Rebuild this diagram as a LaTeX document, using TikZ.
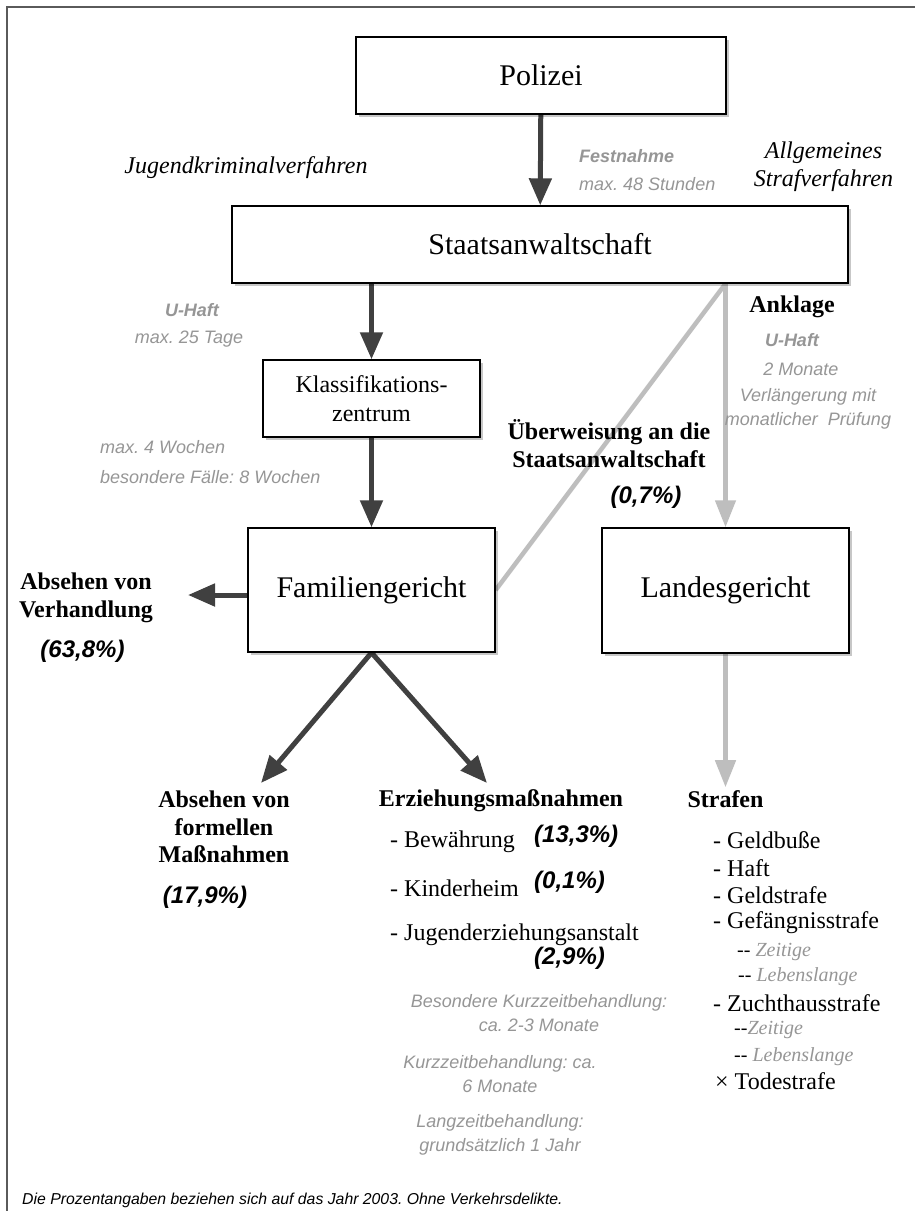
\documentclass[tikz,border=0pt]{standalone}
\usepackage{fontspec}
\setmainfont{Liberation Serif}
\setsansfont{Liberation Sans}
\usepackage{tikz}
\usetikzlibrary{arrows.meta, positioning, shadows, backgrounds}
\definecolor{DA}{RGB}{64,64,64}
\definecolor{LA}{RGB}{190,190,190}
\definecolor{GT}{RGB}{150,150,150}
\definecolor{FR}{RGB}{90,90,90}
\frenchspacing

\begin{document}
\begin{tikzpicture}[x=1pt, y=-1pt,
  box/.style={draw=black, line width=1.4pt, fill=white,
              drop shadow={shadow xshift=3pt, shadow yshift=-3pt, fill=black, opacity=.22},
              align=center, inner sep=0pt, font=\fontsize{30}{34}\selectfont},
  darr/.style={-{Triangle[length=27pt,width=22pt]}, line width=5pt, draw=DA},
  garr/.style={-{Triangle[length=27pt,width=20pt]}, line width=4.5pt, draw=LA},
  gline/.style={line width=4.5pt, draw=LA},
  proc/.style={font=\fontsize{24}{28}\selectfont\itshape, align=center, inner sep=0pt},
  note/.style={font=\sffamily\fontsize{18}{24}\selectfont\itshape, text=GT, align=center, inner sep=0pt},
  notebf/.style={font=\sffamily\fontsize{18}{24}\selectfont\bfseries\itshape, text=GT, inner sep=0pt},
  lbl/.style={font=\fontsize{24}{27.5}\selectfont\bfseries, align=center, inner sep=0pt},
  pct/.style={font=\sffamily\fontsize{24}{28}\selectfont\bfseries\itshape, inner sep=0pt},
  entry/.style={font=\fontsize{24}{28}\selectfont, anchor=west, inner sep=0pt},
  subentry/.style={font=\fontsize{20}{24}\selectfont, anchor=west, inner sep=0pt}
]
\useasboundingbox (0,0) rectangle (915,1211);

% Boxes
\node[box, minimum width=370pt, minimum height=77pt]  (polizei)  at (541,75.5)  {Polizei};
\node[box, minimum width=616pt, minimum height=77pt]  (staats)   at (540,244.5) {Staatsanwaltschaft};
\node[box, minimum width=217pt, minimum height=77pt,
      font=\fontsize{24}{29}\selectfont]              (klass)    at (371.5,398.5) {Klassifikations-\\zentrum};
\node[box, minimum width=247pt, minimum height=124pt] (familien) at (371.5,590) {Familiengericht};
\node[box, minimum width=247pt, minimum height=125pt] (landes)   at (725.5,590.5) {Landesgericht};

% Verfahren
\node[proc] (jkv) at (246,168) {Jugendkriminalverfahren};
\node[proc] (asv) at (823.5,167) {Allgemeines\\Strafverfahren};

% Festnahme
\node[notebf, anchor=west] (festn) at (579,156) {Festnahme};
\node[note, anchor=west]   (festd) at (579,184) {max. 48 Stunden};

% U-Haft Jugend
\node[notebf] (uhaftj) at (192,310) {U-Haft};
\node[note]   (uhaftd) at (189,339) {max. 25 Tage};
\node[note, anchor=west] (klassd1) at (100,447) {max. 4 Wochen};
\node[note, anchor=west] (klassd2) at (100,477) {besondere Fälle: 8 Wochen};

% Anklage
\node[lbl]    (anklage) at (792,307) {Anklage};
\node[notebf] (uhafta)  at (792,340) {U-Haft};
\node[note]   (uhaftm)  at (801,369) {2 Monate};
\node[note]   (uhaftv)  at (808,409) {Verlängerung mit\\monatlicher\ \ Prüfung};

% Ueberweisung
\node[lbl] (ueberw)  at (609,443.5) {Überweisung an die\\Staatsanwaltschaft};
\node[pct] (ueberwp) at (646,497) {(0,7\%)};

% Absehen von Verhandlung
\node[lbl] (absvh)  at (86,598) {Absehen von\\Verhandlung};
\node[pct] (absvhp) at (82.5,651) {(63,8\%)};
\coordinate (vhtip) at (188,595);

% Absehen von formellen Massnahmen
\node[lbl] (absfm)  at (224,827) {Absehen von\\formellen\\Maßnahmen};
\node[pct] (absfmp) at (205,897) {(17,9\%)};
\coordinate (fmtip) at (261,783);

% Erziehungsmassnahmen
\node[lbl] (erz) at (501,801) {Erziehungsmaßnahmen};
\coordinate (erztip) at (487,783);
\node[entry] (bew)  at (390,842) {- Bewährung};
\node[pct, anchor=west] (bewp) at (534,836) {(13,3\%)};
\node[entry] (kind) at (390,888) {- Kinderheim};
\node[pct, anchor=west] (kindp) at (534,882) {(0,1\%)};
\node[entry] (jea)  at (390,935) {- Jugenderziehungsanstalt};
\node[pct, anchor=west] (jeap) at (534,958) {(2,9\%)};
\node[note] (bkz) at (539,1013) {Besondere Kurzzeitbehandlung:\\ca. 2-3 Monate};
\node[note] (kz)  at (500,1074) {Kurzzeitbehandlung: ca.\\6 Monate};
\node[note] (lz)  at (500,1135) {Langzeitbehandlung:\\grundsätzlich 1 Jahr};

% Strafen
\node[lbl, inner sep=3pt] (strafen) at (725.5,799) {Strafen};
\node[entry] (s1) at (713,840) {- Geldbuße};
\node[entry] (s2) at (713,868) {- Haft};
\node[entry] (s3) at (713,895) {- Geldstrafe};
\node[entry] (s4) at (713,923) {- Gefängnisstrafe};
\node[subentry] (s4a) at (737,952) {-{}- \textcolor{GT}{\itshape Zeitige}};
\node[subentry] (s4b) at (738,977) {-{}- \textcolor{GT}{\itshape Lebenslange}};
\node[entry] (s5) at (713,1003) {- Zuchthausstrafe};
\node[subentry] (s5a) at (734,1030) {-{}-\textcolor{GT}{\itshape Zeitige}};
\node[subentry] (s5b) at (734,1057) {-{}- \textcolor{GT}{\itshape Lebenslange}};
\node[entry] (s6) at (715,1081) {× Todestrafe};

% Footnote
\node[font=\sffamily\fontsize{15.8}{18}\selectfont\itshape, anchor=west, inner sep=0pt] (fn)
  at (22,1200) {Die Prozentangaben beziehen sich auf das Jahr 2003. Ohne Verkehrsdelikte.};

% Connectors, behind the labels
\begin{scope}[on background layer]
\fill[white] (0,0) rectangle (915,1211);
\draw[FR, line width=1.5pt] (7,1230) -- (7,7) -- (930,7);
\draw[darr] (polizei) -- (staats);
\draw[darr] (staats.south -| klass.north) -- (klass);
\draw[darr] (klass) -- (familien);
\draw[darr] (familien.west |- vhtip) -- (vhtip);
\draw[darr] (familien.south) -- (fmtip);
\draw[darr] (familien.south) -- (erztip);
\draw[gline] (staats.south -| landes.north) -- (familien.east);
\draw[garr] (staats.south -| landes.north) -- (landes);
\draw[garr] (landes) -- (strafen);
\end{scope}
\end{tikzpicture}
\end{document}
